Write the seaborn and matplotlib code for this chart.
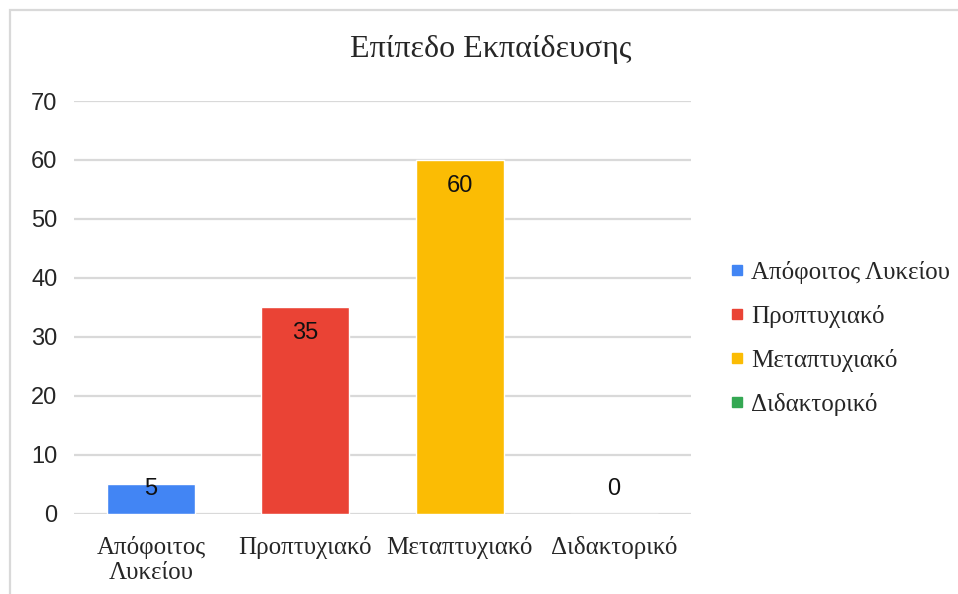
import matplotlib
matplotlib.use("Agg")
import matplotlib.pyplot as plt
import matplotlib.patches as mpatches
from matplotlib.lines import Line2D
import pandas as pd
import seaborn as sns

# Δεδομένα
kathgories = ["Απόφοιτος Λυκείου", "Προπτυχιακό", "Μεταπτυχιακό", "Διδακτορικό"]
etiketes_x = ["Απόφοιτος\nΛυκείου", "Προπτυχιακό", "Μεταπτυχιακό", "Διδακτορικό"]
times = [5, 35, 60, 0]
xromata = ["#4285F4", "#EA4335", "#FBBC04", "#34A853"]
yticks = [0, 10, 20, 30, 40, 50, 60, 70]
titlos = "Επίπεδο Εκπαίδευσης"

df = pd.DataFrame({"kat": kathgories, "timi": times})

sns.set_theme(style="white")
plt.rcParams["font.family"] = ["Liberation Serif", "DejaVu Serif"]

fig = plt.figure(figsize=(9.58, 5.94), dpi=100)
ax = fig.add_axes([74 / 958, 1 - 513.5 / 594, 617 / 958, 412.5 / 594])

sns.barplot(data=df, x="kat", y="timi", hue="kat", palette=xromata,
            order=kathgories, hue_order=kathgories, dodge=False,
            width=0.57, legend=False, saturation=1, ax=ax, zorder=3)

ax.set_xlim(-0.5, 3.5)
ax.set_ylim(0, 70)
ax.set_yticks(yticks)
ax.set_yticklabels([str(t) for t in yticks], family="Liberation Sans", fontsize=17)
ax.set_xticks(range(len(kathgories)))
ax.set_xticklabels(etiketes_x, fontsize=18, linespacing=1.2)
ax.tick_params(axis="y", length=0, pad=12)
ax.tick_params(axis="x", length=0, pad=16)
ax.set_xlabel("")
ax.set_ylabel("")
ax.grid(axis="y", color="#d9d9d9", linewidth=1.6, zorder=0)
ax.grid(axis="x", visible=False)
for s in ax.spines.values():
    s.set_visible(False)

# ετικέτες τιμών
for i, v in enumerate(times):
    ypos = max(v - 4.45, 4.2)
    ax.text(i, ypos, str(v), ha="center", va="center", fontsize=17,
            family="Liberation Sans", color="#111111", zorder=4)

fig.text(491 / 958, 1 - 49 / 594, titlos, ha="center", va="center", fontsize=23)

handles = [Line2D([0], [0], marker="s", linestyle="", markersize=6.5,
                  markerfacecolor=c, markeredgecolor=c) for c in xromata]
ax.legend(handles, kathgories, loc="center left",
          bbox_to_anchor=(720 / 958, 1 - 338 / 594), bbox_transform=fig.transFigure,
          frameon=False, fontsize=18, handlelength=0.55, handletextpad=0.3,
          labelspacing=0.84, borderaxespad=0)

# πλαίσιο γραφήματος
fig.patches.append(mpatches.Rectangle((10 / 958, -0.1), 1.1, 1 - 10 / 594 + 0.1,
                                      transform=fig.transFigure, fill=False,
                                      edgecolor="#d9d9d9", linewidth=1.6))

fig.savefig("out.png", dpi=100)
